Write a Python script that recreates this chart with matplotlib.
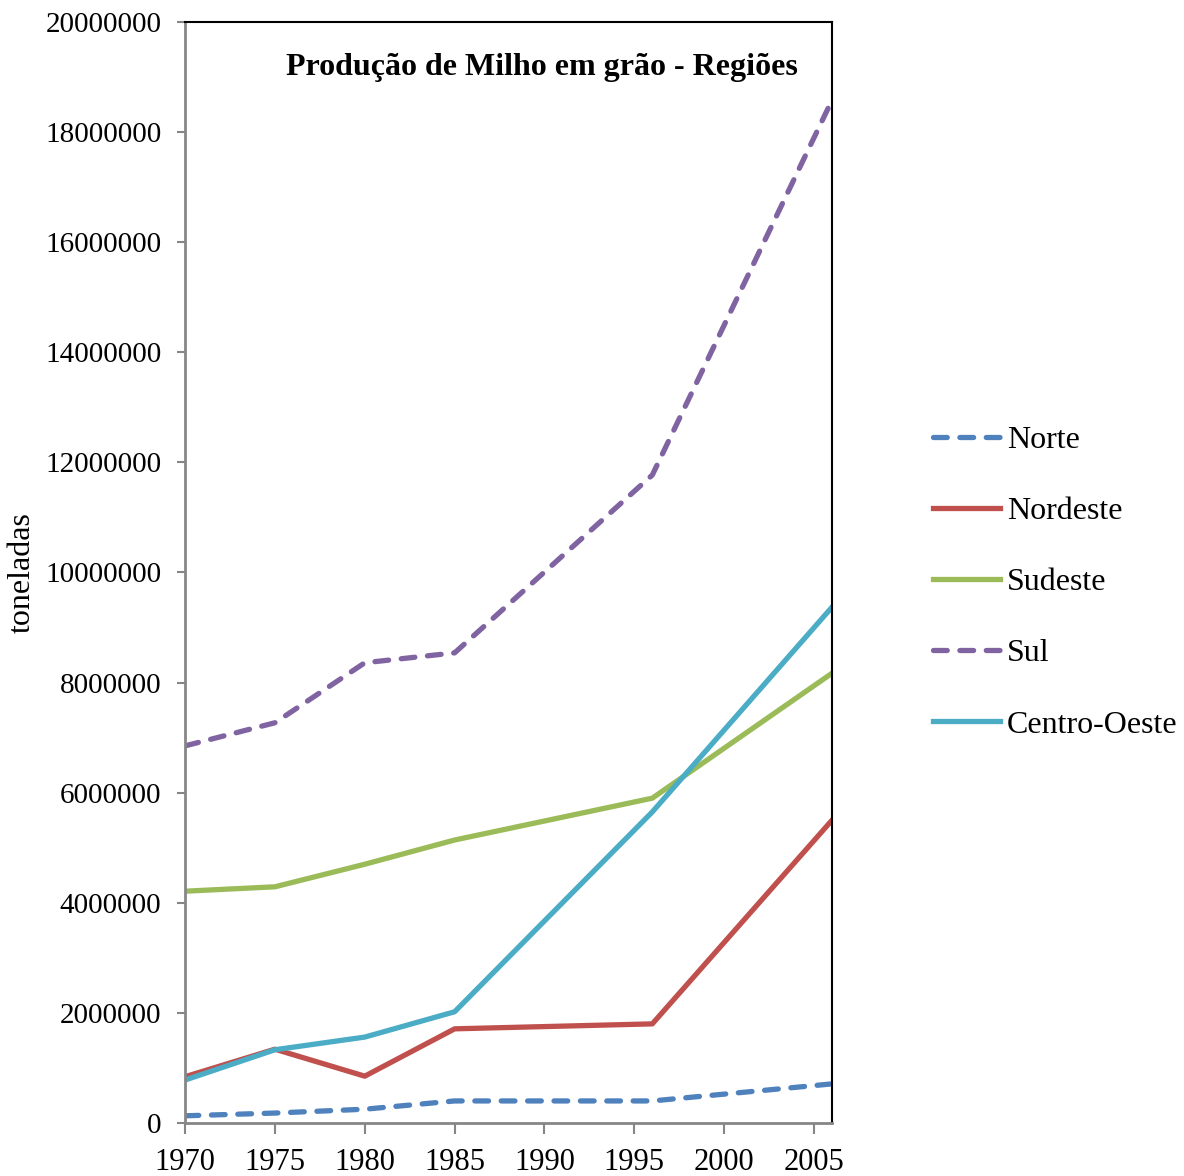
import numpy as np
from matplotlib import pyplot as plt

plt.rcParams['font.family'] = ['Liberation Serif', 'DejaVu Serif']

# dados (toneladas)
anos = [1970, 1975, 1980, 1985, 1996, 2006]
norte = [130000, 180000, 250000, 400000, 400000, 710000]
nordeste = [840000, 1340000, 850000, 1710000, 1800000, 5500000]
sudeste = [4210000, 4290000, 4700000, 5140000, 5900000, 8170000]
sul = [6850000, 7270000, 8360000, 8540000, 11770000, 18580000]
centro_oeste = [780000, 1330000, 1560000, 2020000, 5650000, 9370000]

nomes = ['Norte', 'Nordeste', 'Sudeste', 'Sul', 'Centro-Oeste']
cores = ['#4F81BD', '#C0504D', '#9BBB59', '#8064A2', '#4BACC6']

fig = plt.figure(figsize=(11.84, 11.76), dpi=100)
ax = fig.add_axes([0.1563, 0.0451, 0.5464, 0.9362])

series = [norte, nordeste, sudeste, sul, centro_oeste]
for nome, cor, y in zip(nomes, cores, series):
    if nome in ('Norte', 'Sul'):
        ax.plot(anos, y, color=cor, lw=3.8, dashes=(2.6, 2.4),
                dash_capstyle='round', label=nome)
    else:
        ax.plot(anos, y, color=cor, lw=3.8, label=nome)

ax.set_xlim(1970, 2006)
ax.set_ylim(0, 20000000)
ax.set_xticks(range(1970, 2006, 5))
ax.set_yticks(range(0, 20000001, 2000000))
ax.set_yticklabels([str(v) for v in range(0, 20000001, 2000000)])
ax.tick_params(labelsize=21, width=1.5, color='#868686', direction='out')
ax.tick_params(axis='y', pad=11, length=6)
ax.tick_params(axis='x', pad=10, length=8, labelsize=22)
ax.spines['left'].set_color('#868686')
ax.spines['bottom'].set_color('#868686')
ax.spines['left'].set_linewidth(2)
ax.spines['bottom'].set_linewidth(2)
ax.spines['top'].set_linewidth(1.5)
ax.spines['right'].set_linewidth(1.5)

ax.set_ylabel('toneladas', fontsize=23, labelpad=6)
ax.text(0.947, 0.972, 'Produção de Milho em grão - Regiões', transform=ax.transAxes,
        ha='right', va='top', fontsize=23, fontweight='bold')

leg = fig.legend(loc='center left', bbox_to_anchor=(0.764, 0.5047), fontsize=23,
                 frameon=False, handlelength=2.1, handletextpad=0.2, labelspacing=1.31)

fig.savefig('out.png', dpi=100)
